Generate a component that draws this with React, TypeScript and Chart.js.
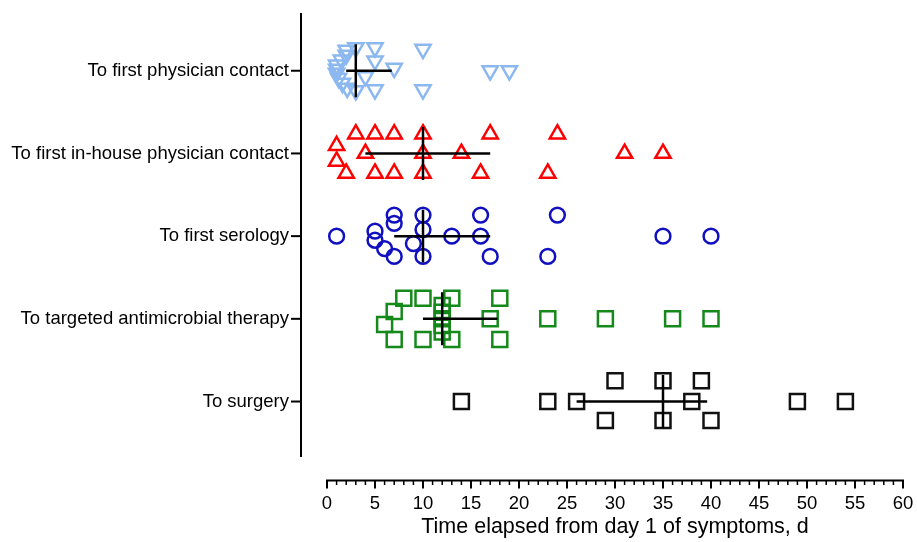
import React, { useEffect, useRef } from 'react';
import { Chart, registerables } from 'chart.js';

Chart.register(...registerables);

// ---------- Data ----------
const categories = [
  'To first physician contact',
  'To first in-house physician contact',
  'To first serology',
  'To targeted antimicrobial therapy',
  'To surgery',
];

// days elapsed, with the vertical row (jitter) each dot sits on inside its category
const physicianDays = [3, 5, 10, 5, 7, 17, 19, 4, 5, 10, 3, 2, 2, 1.5, 1, 1, 1, 1.2, 1.6, 2.1];
const physicianRows = [-0.28, -0.28, -0.26, -0.12, -0.03, 0, 0, 0.07, 0.23, 0.23, 0.24, -0.25, -0.19, -0.13, -0.07, -0.02, 0.03, 0.09, 0.15, 0.21];

const inHouseDays = [3, 5, 7, 10, 17, 24, 1, 1, 4, 10, 14, 31, 35, 2, 5, 7, 10, 16, 23];
const inHouseRows = [-0.235, -0.235, -0.235, -0.235, -0.235, -0.235, -0.095, 0.095, 0, 0, 0, 0, 0, 0.24, 0.24, 0.24, 0.24, 0.24, 0.24];

const serologyDays = [7, 7, 10, 10, 16, 24, 1, 5, 5, 6, 9, 13, 16, 35, 40, 7, 10, 17, 23];
const serologyRows = [-0.255, -0.155, -0.255, -0.08, -0.255, -0.255, 0, -0.06, 0.05, 0.15, 0.09, 0, 0, 0, 0, 0.245, 0.245, 0.245, 0.245];

const therapyDays = [8, 10, 13, 18, 7, 6, 7, 10, 13, 18, 17, 23, 29, 36, 40, 12, 12, 12, 12, 12];
const therapyRows = [-0.25, -0.25, -0.25, -0.25, -0.09, 0.07, 0.25, 0.25, 0.25, 0.25, 0, 0, 0, 0, 0, -0.16, -0.08, 0, 0.08, 0.16];

const surgeryDays = [30, 35, 39, 14, 23, 26, 38, 49, 54, 29, 35, 40];
const surgeryRows = [-0.25, -0.25, -0.25, 0, 0, 0, 0, 0, 0, 0.23, 0.23, 0.23];

const medians = [3, 10, 10, 12, 35];
const q1s = [2, 4, 7, 10, 26];
const q3s = [6.75, 17, 17, 17.75, 39.6];

const xTickValues = Array.from({ length: 61 }, (_, i) => i);

// ---------- Chart ----------
const FONT = "'Liberation Sans', Arial, Helvetica, sans-serif";
const Y_TOP = -0.697;
const Y_AXIS_END = 4.67;
const Y_MAX = 4.955;

const prismAxes = {
  id: 'prismAxes',
  afterDraw(chart: any) {
    const { ctx, chartArea, scales } = chart;
    const x = scales.x;
    const y = scales.y;
    ctx.save();
    ctx.strokeStyle = '#000';
    ctx.lineCap = 'butt';
    // y axis line (offset to the left of the plotting area)
    const ax = chartArea.left - 26;
    ctx.lineWidth = 2;
    ctx.beginPath();
    ctx.moveTo(ax, y.getPixelForValue(Y_TOP));
    ctx.lineTo(ax, y.getPixelForValue(Y_AXIS_END));
    ctx.stroke();
    y.ticks.forEach((t: any) => {
      const py = y.getPixelForValue(t.value);
      ctx.beginPath();
      ctx.moveTo(ax - 10, py);
      ctx.lineTo(ax, py);
      ctx.stroke();
    });
    // x axis line + ticks
    const by = chartArea.bottom;
    ctx.lineWidth = 2;
    ctx.beginPath();
    ctx.moveTo(x.getPixelForValue(xTickValues[0]) - 1, by);
    ctx.lineTo(x.getPixelForValue(xTickValues[xTickValues.length - 1]) + 1, by);
    ctx.stroke();
    x.ticks.forEach((t: any) => {
      const px = x.getPixelForValue(t.value);
      const major = t.value % 5 === 0;
      ctx.lineWidth = major ? 2 : 1.5;
      ctx.beginPath();
      ctx.moveTo(px, by);
      ctx.lineTo(px, by + (major ? 8 : 4.5));
      ctx.stroke();
    });
    ctx.restore();
  },
};

function pointsOf(days: number[], rows: number[], idx: number) {
  return days.map((d, i) => ({ x: d, y: idx + rows[i] }));
}

export default function App() {
  const ref = useRef<HTMLCanvasElement | null>(null);

  useEffect(() => {
    if (!ref.current) return;
    Chart.defaults.font.family = FONT;
    Chart.defaults.color = '#000';

    const groups = [
      { days: physicianDays, rows: physicianRows, color: '#8CB8F0', style: 'triangle', rot: 180, r: 8.8 },
      { days: inHouseDays, rows: inHouseRows, color: '#FF0000', style: 'triangle', rot: 0, r: 8.8 },
      { days: serologyDays, rows: serologyRows, color: '#1010C0', style: 'circle', rot: 0, r: 7.4 },
      { days: therapyDays, rows: therapyRows, color: '#15891A', style: 'rect', rot: 0, r: 10.6 },
      { days: surgeryDays, rows: surgeryRows, color: '#111111', style: 'rect', rot: 0, r: 10.6 },
    ];

    const datasets: any[] = [];
    categories.forEach((_, i) => {
      datasets.push({
        type: 'line',
        data: [{ x: medians[i], y: i - 0.32 }, { x: medians[i], y: i + 0.32 }],
        borderColor: '#000',
        borderWidth: 2.5,
        pointRadius: 0,
        fill: false,
        order: 0,
      });
      datasets.push({
        type: 'line',
        data: [{ x: q1s[i], y: i }, { x: q3s[i], y: i }],
        borderColor: '#000',
        borderWidth: 2.5,
        pointRadius: 0,
        fill: false,
        order: 0,
      });
    });
    groups.forEach((g, i) => {
      datasets.push({
        type: 'scatter',
        label: categories[i],
        data: pointsOf(g.days, g.rows, i),
        pointStyle: g.style,
        pointRotation: g.rot,
        pointRadius: g.r,
        pointBorderWidth: 2.5,
        borderWidth: 2.5,
        borderColor: g.color,
        pointBorderColor: g.color,
        backgroundColor: 'rgba(0,0,0,0)',
        pointBackgroundColor: 'rgba(0,0,0,0)',
        order: 1,
      });
    });

    const chart = new Chart(ref.current, {
      type: 'scatter',
      data: { datasets },
      plugins: [prismAxes],
      options: {
        animation: false,
        responsive: false,
        events: [],
        layout: { padding: { top: 10, right: 14, bottom: 0, left: 0 } },
        plugins: { legend: { display: false }, tooltip: { enabled: false } },
        scales: {
          x: {
            type: 'linear',
            min: 0,
            max: 60,
            grid: { display: false, drawTicks: false },
            border: { display: false },
            afterBuildTicks: (s: any) => {
              s.ticks = xTickValues.map((v) => ({ value: v }));
            },
            afterFit: (s: any) => {
              s.height = 61.5;
              s.paddingLeft = 0;
              s.paddingRight = 0;
            },
            ticks: {
              autoSkip: false,
              maxRotation: 0,
              minRotation: 0,
              padding: 12,
              color: '#000',
              font: { size: 18.5, family: FONT },
              callback: (v: any) => (Number(v) % 5 === 0 ? String(v) : ''),
            },
            title: {
              display: true,
              text: 'Time elapsed from day 1 of symptoms, d',
              color: '#000',
              font: { size: 21.5, family: FONT },
              padding: { top: 0, bottom: 2.5 },
            },
          },
          y: {
            type: 'linear',
            reverse: true,
            min: Y_TOP,
            max: Y_MAX,
            grid: { display: false, drawTicks: false },
            border: { display: false },
            afterBuildTicks: (s: any) => {
              s.ticks = categories.map((_, i) => ({ value: i }));
            },
            afterFit: (s: any) => {
              s.width = 327;
              s.paddingTop = 0;
              s.paddingBottom = 0;
            },
            ticks: {
              autoSkip: false,
              padding: 38,
              color: '#000',
              font: { size: 18.5, family: FONT },
              callback: (v: any) => categories[Math.round(Number(v))] ?? '',
            },
          },
        },
      },
    } as any);

    return () => chart.destroy();
  }, []);

  return (
    <div style={{ position: 'fixed', left: 0, top: 0, width: 917, height: 542, background: '#fff' }}>
      <canvas ref={ref} width={917} height={542} style={{ display: 'block', width: 917, height: 542 }} />
    </div>
  );
}
